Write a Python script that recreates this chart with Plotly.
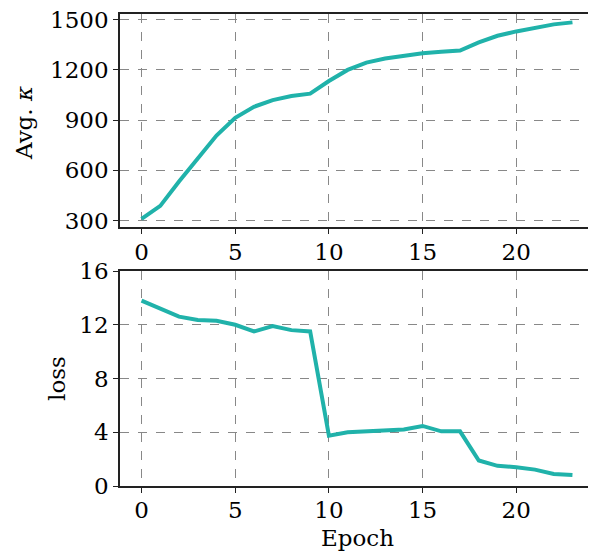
import plotly.graph_objects as go
from plotly.subplots import make_subplots

epochs = list(range(24))
avg_kappa = [310, 388, 534, 674, 808, 914, 980, 1020, 1044, 1058, 1134, 1200,
             1244, 1268, 1286, 1300, 1308, 1316, 1364, 1404, 1430, 1452, 1472, 1484]
loss = [13.8, 13.2, 12.6, 12.35, 12.3, 12.0, 11.5, 11.9, 11.6, 11.5, 3.75, 4.0,
        4.07, 4.2, 4.2, 4.47, 4.07, 4.07, 1.9, 1.5, 1.4, 1.22, 0.9, 0.82]

kappa_ticks = [300, 600, 900, 1200, 1500]
loss_ticks = [0, 4, 8, 12, 16]
epoch_ticks = [0, 5, 10, 15, 20]

color = "#20B2AA"
font_family = "DejaVu Serif"
fs = 23

fig = make_subplots(rows=2, cols=1, shared_xaxes=False)
fig.add_trace(go.Scatter(x=epochs, y=avg_kappa, mode="lines",
                         line=dict(color=color, width=4), showlegend=False), row=1, col=1)
fig.add_trace(go.Scatter(x=epochs, y=loss, mode="lines",
                         line=dict(color=color, width=4), showlegend=False), row=2, col=1)

axis_common = dict(
    showline=True, mirror=True, linecolor="#222", linewidth=1.5,
    ticks="outside", ticklen=5, tickwidth=1.1, tickcolor="#222",
    showgrid=True, gridcolor="#888", griddash="dash", gridwidth=1,
    zeroline=False, automargin=False, ticklabeloverflow="allow",
    tickfont=dict(size=fs, color="black", family=font_family),
)

fig.update_xaxes(**axis_common, range=[-1.15, 24.15], tickvals=epoch_ticks, ticklabelstandoff=-2)
fig.update_yaxes(**axis_common)
fig.update_yaxes(row=1, col=1, range=[259, 1534], tickvals=kappa_ticks)
fig.update_yaxes(row=2, col=1, range=[0, 16], tickvals=loss_ticks)

# plot area: 474 x 472 px
title_font = dict(size=fs, family=font_family, color="black")
fig.add_annotation(text="Avg. <i>κ</i>", xref="paper", yref="paper", x=-0.2025, y=0.769,
                   xanchor="center", yanchor="middle", textangle=-90, showarrow=False, font=title_font)
fig.add_annotation(text="loss", xref="paper", yref="paper", x=-0.133, y=0.2288,
                   xanchor="center", yanchor="middle", textangle=-90, showarrow=False, font=title_font)
fig.add_annotation(text="Epoch", xref="paper", yref="paper", x=0.502, y=-0.110,
                   xanchor="center", yanchor="middle", showarrow=False, font=title_font)

fig.update_layout(
    width=588, height=544,
    margin=dict(l=112, r=2, t=6, b=66),
    plot_bgcolor="white", paper_bgcolor="white",
    font=dict(family=font_family, size=fs, color="black"),
    xaxis=dict(domain=[0, 1]), xaxis2=dict(domain=[0, 1]),
    yaxis=dict(domain=[0.5477, 1.0]), yaxis2=dict(domain=[0.0, 0.4555]),
)

fig.write_html("out.html")
